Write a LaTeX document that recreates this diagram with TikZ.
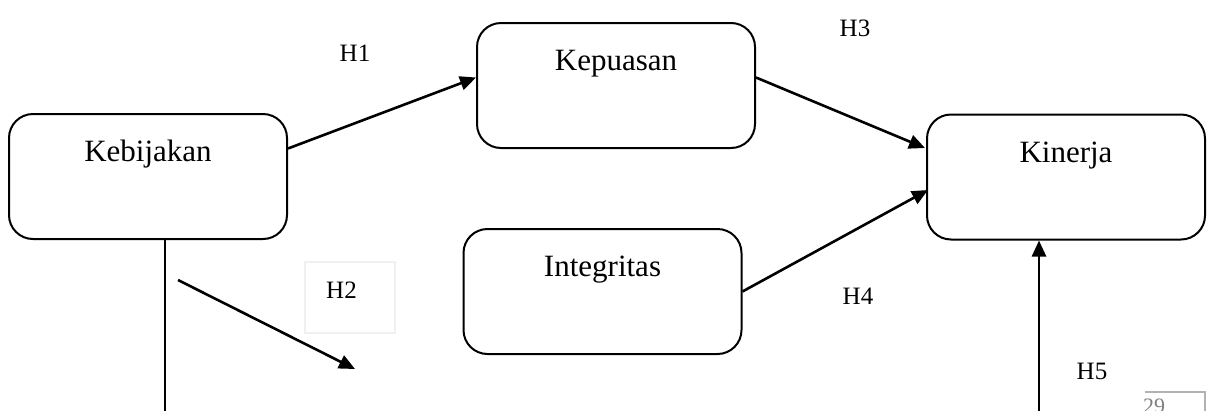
\documentclass[tikz,border=0pt]{standalone}
\usepackage{fontspec}
\setmainfont{Liberation Serif}
\usepackage{tikz}
\usetikzlibrary{arrows.meta}

\begin{document}
\begin{tikzpicture}[x=1pt, y=-1pt,
	varbox/.style={draw, line width=2pt, rounded corners=24pt, minimum width=278pt, minimum height=125pt, inner sep=0pt, text height=22pt, text depth=52pt, font=\fontsize{31}{36}\selectfont},
	hyp/.style={font=\fontsize{25}{30}\selectfont, inner sep=0pt},
	path/.style={line width=2.6pt, -{Triangle[length=16pt, width=14pt]}}]
		\useasboundingbox (0,0) rectangle (1209,410);
		% variables
		\node[varbox] at (148,176.5) (keb) {Kebijakan};
		\node[varbox] at (616,85.5) (kep) {Kepuasan};
		\node[varbox] at (602.5,291.5) (int) {Integritas};
		\node[varbox] at (1066,177) (kin) {Kinerja};
		% hypotheses
		\node[hyp] at (355,53) (h1) {H1};
		\node[draw=gray!12, line width=1.2pt, minimum width=90pt, minimum height=71pt] at (350,297.5) (h2box) {};
		\node[hyp] at (341.5,290) (h2) {H2};
		\node[hyp] at (855,28) (h3) {H3};
		\node[hyp] at (858,296) (h4) {H4};
		\node[hyp] at (1092,371) (h5) {H5};
		\coordinate (h2start) at (178,280);
		\coordinate (h2end) at (355,369);
		\coordinate (kebdown) at (165,415);
		\coordinate (h5start) at (1039,415);
		\draw[path] ([yshift=28pt]keb.east) -- ([yshift=8pt]kep.west);
		\draw[path] ([yshift=8pt]kep.east) -- ([xshift=-1pt, yshift=29pt]kin.west);
		\draw[path] (int.east) -- ([xshift=2pt, yshift=-13pt]kin.west);
		\draw[path] (h2start) -- (h2end);
		\draw[path] (h5start) -- ([xshift=-27pt]kin.south);
		\draw[line width=2.4pt] ([xshift=17pt]keb.south) -- (kebdown);
		% page number
		\draw[gray!60, line width=1.2pt] (1145,392) -- (1205,392) -- (1205,412);
		\node[anchor=north west, inner sep=0pt, gray, font=\fontsize{22}{26}\selectfont] at (1143,399) (page) {29};
	\end{tikzpicture}
\end{document}
